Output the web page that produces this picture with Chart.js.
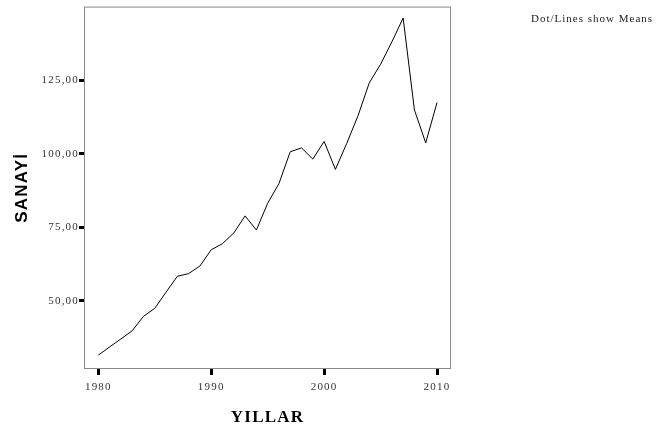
<!DOCTYPE html>
<html>
<head>
<meta charset="utf-8">
<script src="https://cdn.jsdelivr.net/npm/chart.js@4/dist/chart.umd.min.js"></script>
<style>
  html, body { margin: 0; padding: 0; background: #fff; }
  #wrap { width: 658px; height: 430px; }
</style>
</head>
<body>
<div id="wrap"><canvas id="myChart" width="658" height="430"></canvas></div>
<script>
// Yearly means of SANAYİ
const years = [1980, 1981, 1982, 1983, 1984, 1985, 1986, 1987, 1988, 1989,
               1990, 1991, 1992, 1993, 1994, 1995, 1996, 1997, 1998, 1999,
               2000, 2001, 2002, 2003, 2004, 2005, 2006, 2007, 2008, 2009, 2010];
const sanayi = [31.6, 34.4, 37.1, 39.9, 44.8, 47.5, 53.0, 58.4, 59.3, 61.9,
                67.4, 69.5, 73.1, 78.9, 74.1, 83.2, 89.9, 100.7, 102.0, 98.2,
                104.2, 94.7, 103.5, 112.9, 124.1, 130.4, 138.0, 146.1, 114.9, 103.7, 117.4];
const xTicks = [1980, 1990, 2000, 2010];
const yTicks = [50, 75, 100, 125];
const yTickLabels = ["50,00", "75,00", "100,00", "125,00"];

const serif = "'Liberation Serif', 'DejaVu Serif', serif";
const sans = "'Liberation Sans', Arial, sans-serif";

// wide letter spacing for all text, grey box round the plot, note at top right
const framePlugin = {
    id: 'frame',
    beforeDraw(chart) {
        chart.ctx.letterSpacing = '1.2px';
    },
    afterDraw(chart) {
        const ctx = chart.ctx;
        const a = chart.chartArea;
        ctx.save();
        ctx.strokeStyle = '#8a8a8a';
        ctx.lineWidth = 1;
        ctx.strokeRect(a.left + 0.5, a.top + 0.5, a.right - a.left - 1, a.bottom - a.top - 1);
        ctx.fillStyle = '#222';
        ctx.font = "11px " + serif;
        ctx.letterSpacing = '1px';
        ctx.textBaseline = 'middle';
        ctx.fillText('Dot/Lines show Means', 531, 19);
        ctx.restore();
        ctx.letterSpacing = '0px';
    }
};

const ctx = document.getElementById('myChart').getContext('2d');
const myChart = new Chart(ctx, {
    type: 'line',
    data: {
        datasets: [{
            data: years.map((y, i) => ({ x: y, y: sanayi[i] })),
            borderColor: '#000',
            borderWidth: 1,
            pointRadius: 0,
            tension: 0,
            fill: false
        }]
    },
    options: {
        responsive: false,
        animation: false,
        layout: { padding: { left: 0, top: 3, right: 207, bottom: 0 } },
        plugins: { legend: { display: false }, tooltip: { enabled: false } },
        scales: {
            x: {
                type: 'linear',
                min: 1978.73,
                max: 2011.24,
                afterBuildTicks: s => { s.ticks = xTicks.map(v => ({ value: v })); },
                afterFit: s => { s.height = 61; },
                grid: { drawOnChartArea: false, tickLength: 6, tickWidth: 3, tickColor: '#000' },
                border: { display: false },
                ticks: {
                    padding: 6,
                    color: '#333',
                    font: { family: serif, size: 11 },
                    callback: v => String(v)
                },
                title: {
                    display: true,
                    text: 'YILLAR',
                    color: '#000',
                    font: { family: serif, size: 17, weight: 'bold' },
                    padding: { top: 0, bottom: 2 }
                }
            },
            y: {
                min: 26.9,
                max: 150,
                afterBuildTicks: s => { s.ticks = yTicks.map(v => ({ value: v })); },
                afterFit: s => { s.width = 84; },
                grid: { drawOnChartArea: false, tickLength: 5, tickWidth: 3, tickColor: '#000' },
                border: { display: false },
                ticks: {
                    padding: 0,
                    color: '#333',
                    font: { family: serif, size: 11 },
                    callback: v => yTickLabels[yTicks.indexOf(v)]
                },
                title: {
                    display: true,
                    text: 'SANAYİ',
                    color: '#000',
                    font: { family: sans, size: 17, weight: 'bold' },
                    padding: { top: 12, bottom: 0 }
                }
            }
        }
    },
    plugins: [framePlugin]
});
</script>
</body>
</html>
